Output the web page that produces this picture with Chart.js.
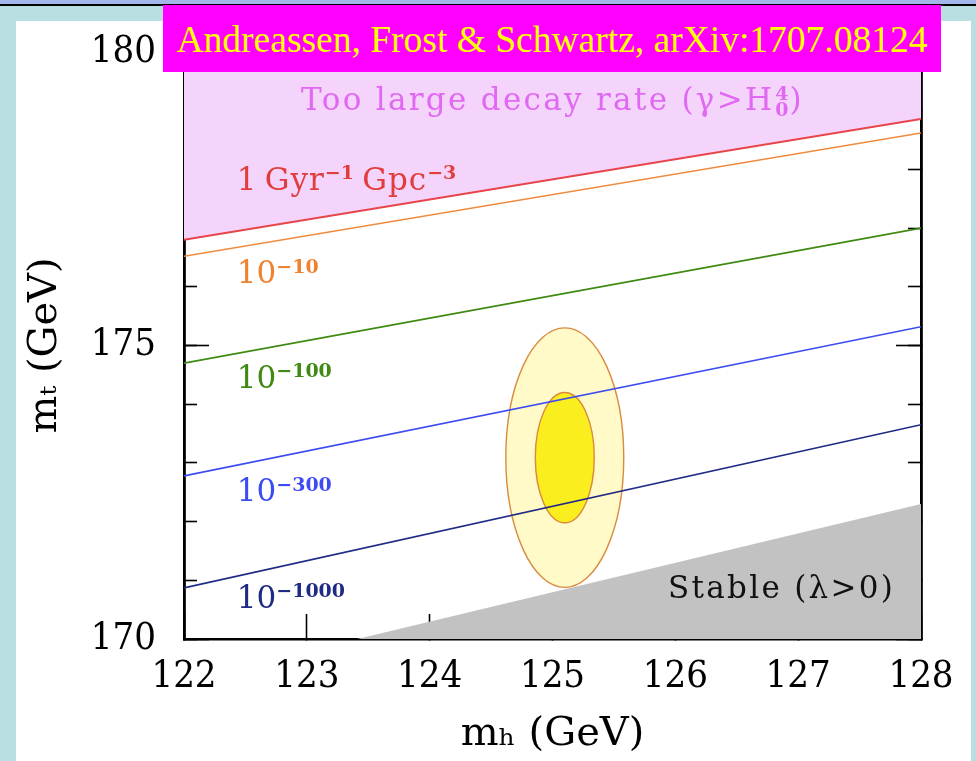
<!DOCTYPE html>
<html>
<head>
<meta charset="utf-8">
<script src="https://cdn.jsdelivr.net/npm/chart.js@4.4.0/dist/chart.umd.min.js"></script>
<style>
html,body{margin:0;padding:0;width:976px;height:761px;overflow:hidden;background:#b9dfe3;}
#strip{position:absolute;left:0;top:0;width:976px;height:4px;background:#a3b7ea;}
#rule{position:absolute;left:0;top:4px;width:976px;height:2px;background:#000;}
#panel{position:absolute;left:16px;top:21px;width:955px;height:740px;background:#fff;}
#wrap{position:absolute;left:0;top:0;width:976px;height:761px;}
#banner{position:absolute;left:163px;top:5px;width:778px;height:67px;background:#ff00ff;color:#ffff00;
  font-family:"Liberation Serif","Times New Roman",serif;font-size:37.5px;line-height:70px;text-align:center;white-space:nowrap;z-index:5;}
</style>
</head>
<body>
<div id="strip"></div><div id="rule"></div><div id="panel"></div>
<div id="wrap"><canvas id="c" width="976" height="761"></canvas></div>
<div id="banner">Andreassen, Frost &amp; Schwartz, arXiv:1707.08124</div>
<script>
// ---- data ----
const xTickValues = [122, 123, 124, 125, 126, 127, 128];
const xTickLabels = ['122', '123', '124', '125', '126', '127', '128'];
const yMajorValues = [170, 175, 180];
const yMajorLabels = ['170', '175', '180'];
const yMinorValues = [170, 171, 172, 173, 174, 175, 176, 177, 178, 179, 180];
const massH = [122, 128];               // m_h endpoints of the contour lines
const rate1Gyr = [176.80, 178.86];      // 1 Gyr^-1 Gpc^-3
const rate1e10 = [176.52, 178.62];      // 10^-10
const rate1e100 = [174.70, 177.00];     // 10^-100
const rate1e300 = [172.78, 175.32];     // 10^-300
const rate1e1000 = [170.87, 173.65];    // 10^-1000
const stableMh = [123.41, 128];
const stableMt = [170, 172.30];
const fitCenter = [125.10, 173.09];
const fit1Sigma = [0.24, 1.11];
const fit2Sigma = [0.48, 2.21];

const pts = (xs, ys) => xs.map((v, i) => ({x: v, y: ys[i]}));

const SERIF = '"DejaVu Serif","Liberation Serif",serif';
const TICKSERIF = '"DejaVu Serif Condensed","DejaVu Serif",serif';

function drawRich(ctx, px, py, parts, size, color, align, ls) {
  ctx.save();
  ctx.fillStyle = color;
  ctx.textBaseline = 'alphabetic';
  const mainFont = size + 'px ' + SERIF;
  const smallSize = Math.round(size * 0.6);
  const smallFont = 'bold ' + smallSize + 'px ' + SERIF;
  const mainLS = (ls || 0) + 'px';
  const setMain = () => { ctx.font = mainFont; ctx.letterSpacing = mainLS; };
  const setSmall = () => { ctx.font = smallFont; ctx.letterSpacing = '0px'; };
  let total = 0;
  const widths = parts.map(p => {
    let w;
    if (p.stack) { setSmall(); w = Math.max(ctx.measureText(p.stack[0]).width, ctx.measureText(p.stack[1]).width) + 2; }
    else { if (p.sup) setSmall(); else setMain(); w = ctx.measureText(p.t).width + (p.sup ? 1 : 0); }
    total += w; return w;
  });
  let cx = align === 'center' ? px - total / 2 : px;
  const raise = size * 0.34;
  const lower = size * 0.2;
  parts.forEach((p, i) => {
    if (p.stack) {
      setSmall();
      ctx.fillText(p.stack[0], cx + 1, py - raise);
      ctx.fillText(p.stack[1], cx + 1, py + lower);
    } else if (p.sup) {
      setSmall(); ctx.fillText(p.t, cx, py - raise);
    } else {
      setMain(); ctx.fillText(p.t, cx, py);
    }
    cx += widths[i];
  });
  ctx.restore();
}

const overlay = {
  id: 'overlay',
  beforeDatasetsDraw(chart) {
    const {ctx, chartArea} = chart;
    const x = chart.scales.x, y = chart.scales.y;
    ctx.save();
    ctx.beginPath(); ctx.rect(chartArea.left, chartArea.top, chartArea.width, chartArea.height); ctx.clip();
    const cx = x.getPixelForValue(fitCenter[0]), cy = y.getPixelForValue(fitCenter[1]);
    [[fit2Sigma, '#fffac8'], [fit1Sigma, '#fbee1f']].forEach(([s, c]) => {
      const rx = Math.abs(x.getPixelForValue(fitCenter[0] + s[0]) - cx);
      const ry = Math.abs(y.getPixelForValue(fitCenter[1] + s[1]) - cy);
      ctx.beginPath(); ctx.ellipse(cx, cy, rx, ry, 0, 0, 2 * Math.PI);
      ctx.fillStyle = c; ctx.fill();
      ctx.lineWidth = 1.4; ctx.strokeStyle = '#d88a3e'; ctx.stroke();
    });
    ctx.restore();
  },
  afterDatasetsDraw(chart) {
    const {ctx} = chart;
    const x = chart.scales.x, y = chart.scales.y;
    const P = (a, b) => [x.getPixelForValue(a), y.getPixelForValue(b)];
    const S = 31;
    let p;
    p = P(125.0, 179.01);
    drawRich(ctx, p[0], p[1], [{t: 'Too large decay rate (\u03b3>H'}, {stack: ['4', '0']}, {t: ')'}], S, '#e068f2', 'center', 2.3);
    p = P(122.43, 177.65);
    drawRich(ctx, p[0], p[1], [{t: '1\u2009Gyr'}, {t: '\u22121', sup: true}, {t: '\u2009Gpc'}, {t: '\u22123', sup: true}], S, '#e23d3d', 'left', 1);
    p = P(122.43, 176.06);
    drawRich(ctx, p[0], p[1], [{t: '10'}, {t: '\u221210', sup: true}], S, '#f0812e', 'left', 0);
    p = P(122.43, 174.28);
    drawRich(ctx, p[0], p[1], [{t: '10'}, {t: '\u2212100', sup: true}], S, '#3f8a12', 'left', 0);
    p = P(122.43, 172.35);
    drawRich(ctx, p[0], p[1], [{t: '10'}, {t: '\u2212300', sup: true}], S, '#3d4cf2', 'left', 0);
    p = P(122.43, 170.53);
    drawRich(ctx, p[0], p[1], [{t: '10'}, {t: '\u22121000', sup: true}], S, '#1f2a84', 'left', 0);
    p = P(125.94, 170.70);
    drawRich(ctx, p[0], p[1], [{t: 'Stable (\u03bb>0)'}], S, '#111111', 'left', 2.3);
  }
};

const tickFont = {family: TICKSERIF, size: 38};
const titleFont = {family: SERIF, size: 40};
const baseGrid = (len) => ({display: true, drawOnChartArea: false, drawTicks: true, tickLength: len, tickColor: '#000', tickWidth: 1.6});
const border = {display: true, color: '#000', width: 2.6};
const noPad = s => { s.paddingLeft = 0; s.paddingRight = 0; s.paddingTop = 0; s.paddingBottom = 0; };

new Chart(document.getElementById('c'), {
  type: 'scatter',
  data: {
    datasets: [
      {label: '1 Gyr', data: pts(massH, rate1Gyr), showLine: true, borderColor: '#e8454a', borderWidth: 2, pointRadius: 0,
       fill: 'end', backgroundColor: '#f4d4fb', order: 5},
      {label: '1e-10', data: pts(massH, rate1e10), showLine: true, borderColor: '#f28a3c', borderWidth: 1.7, pointRadius: 0, fill: false, order: 4},
      {label: '1e-100', data: pts(massH, rate1e100), showLine: true, borderColor: '#3f8a12', borderWidth: 1.7, pointRadius: 0, fill: false, order: 3},
      {label: '1e-300', data: pts(massH, rate1e300), showLine: true, borderColor: '#3d4cf2', borderWidth: 1.7, pointRadius: 0, fill: false, order: 2},
      {label: '1e-1000', data: pts(massH, rate1e1000), showLine: true, borderColor: '#1f2a84', borderWidth: 1.7, pointRadius: 0, fill: false, order: 1},
      {label: 'stable', data: pts(stableMh, stableMt), showLine: true, borderColor: 'rgba(0,0,0,0)', borderWidth: 0, pointRadius: 0,
       fill: 'start', backgroundColor: '#c2c2c2', order: 6}
    ]
  },
  options: {
    responsive: false,
    animation: false,
    events: [],
    layout: {padding: {left: 0, right: 55, top: 52, bottom: 0}},
    plugins: {legend: {display: false}, tooltip: {enabled: false}},
    scales: {
      x: {
        type: 'linear', position: 'bottom', min: 122, max: 128,
        afterBuildTicks: s => { s.ticks = xTickValues.map(v => ({value: v})); },
        afterFit: s => { s.height = 122; noPad(s); },
        ticks: {color: '#000', font: tickFont, padding: 40, maxRotation: 0, autoSkip: false,
          callback: (v) => { const i = xTickValues.indexOf(v); return i >= 0 ? xTickLabels[i] : ''; }},
        grid: baseGrid(-25), border,
        title: {display: true, text: 'm\u2095 (GeV)', color: '#000', font: titleFont, padding: {top: 0, bottom: 2}}
      },
      xTop: {
        type: 'linear', position: 'top', min: 122, max: 128,
        afterBuildTicks: s => { s.ticks = xTickValues.map(v => ({value: v})); },
        afterFit: s => { s.height = 0; noPad(s); },
        ticks: {display: false}, grid: baseGrid(-25), border
      },
      y: {
        type: 'linear', position: 'left', min: 170, max: 180, weight: 2,
        afterBuildTicks: s => { s.ticks = yMajorValues.map(v => ({value: v})); },
        afterFit: s => { s.width = 184; noPad(s); },
        ticks: {color: '#000', font: tickFont, padding: 53,
          callback: (v) => { const i = yMajorValues.indexOf(v); return i >= 0 ? yMajorLabels[i] : ''; }},
        grid: baseGrid(-25), border,
        title: {display: true, text: 'm\u209c (GeV)', color: '#000', font: titleFont, padding: {top: 22, bottom: 0}}
      },
      yMinor: {
        type: 'linear', position: 'left', min: 170, max: 180, weight: 1,
        afterBuildTicks: s => { s.ticks = yMinorValues.map(v => ({value: v})); },
        afterFit: s => { s.width = 0; noPad(s); },
        ticks: {display: false}, grid: baseGrid(-13), border
      },
      yRight: {
        type: 'linear', position: 'right', min: 170, max: 180, weight: 1,
        afterBuildTicks: s => { s.ticks = yMajorValues.map(v => ({value: v})); },
        afterFit: s => { s.width = 0; noPad(s); },
        ticks: {display: false}, grid: baseGrid(-25), border
      },
      yRightMinor: {
        type: 'linear', position: 'right', min: 170, max: 180, weight: 2,
        afterBuildTicks: s => { s.ticks = yMinorValues.map(v => ({value: v})); },
        afterFit: s => { s.width = 0; noPad(s); },
        ticks: {display: false}, grid: baseGrid(-13), border
      }
    }
  },
  plugins: [overlay]
});
</script>
</body>
</html>
